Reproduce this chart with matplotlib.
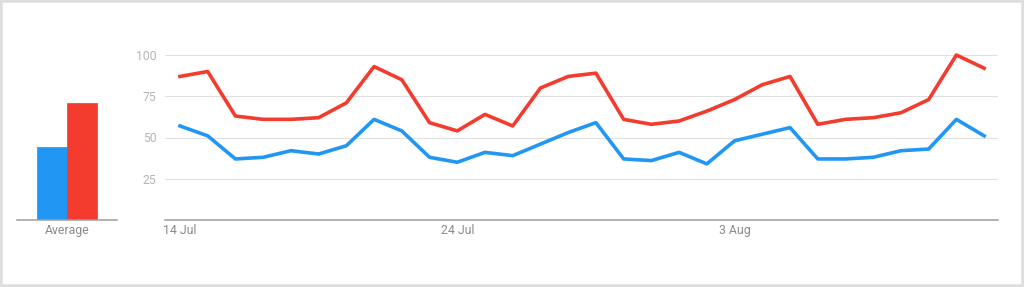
import numpy as np
import pandas as pd
import matplotlib.pyplot as plt
import matplotlib.dates as mdates
from matplotlib.patches import Rectangle

plt.rcParams['font.family'] = ['Roboto', 'DejaVu Sans']

dates = pd.date_range('2020-07-14', periods=30, freq='D')
red_vals = [87, 90, 63, 61, 61, 62, 71, 93, 85, 59, 54, 64, 57, 80, 87, 89, 61, 58,
            60, 66, 73, 82, 87, 58, 61, 62, 65, 73, 100, 92]
blue_vals = [57, 51, 37, 38, 42, 40, 45, 61, 54, 38, 35, 41, 39, 46, 53, 59, 37, 36,
             41, 34, 48, 52, 56, 37, 37, 38, 42, 43, 61, 51]
avg_vals = [44, 71]
tick_dates = ['2020-07-14', '2020-07-24', '2020-08-03']
tick_labels = ['14 Jul', '24 Jul', '3 Aug']

blue = '#2196f3'
red = '#f33b2e'

fig = plt.figure(figsize=(10.24, 2.87), dpi=100)
fig.patches.append(Rectangle((0, 0), 1, 1, transform=fig.transFigure, fill=False,
                             edgecolor='#dedede', linewidth=4, zorder=10))

# average bars
ax0 = fig.add_axes([17/1024, 1-220/287, 100/1024, 165/287])
ax0.bar([0, 1], avg_vals, width=1, color=[blue, red], edgecolor=[blue, red], linewidth=0.5)
ax0.set_xlim(-1.167, 2.167)
ax0.set_ylim(0, 100)
for s in ['top', 'right', 'left']:
    ax0.spines[s].set_visible(False)
ax0.spines['bottom'].set_color('#9e9e9e')
ax0.spines['bottom'].set_linewidth(1.1)
ax0.set_yticks([])
ax0.set_xticks([0.5])
ax0.set_xticklabels(['Average'], fontsize=8.8, color='#8a8a8a')
ax0.tick_params(axis='x', length=0, pad=3)

# main lines
ax = fig.add_axes([165/1024, 1-220/287, 833/1024, 165/287])
ax.plot(dates, blue_vals, color=blue, linewidth=2.6, clip_on=False)
ax.plot(dates, red_vals, color=red, linewidth=2.6, clip_on=False)
x0 = mdates.date2num(dates[0])
ax.set_xlim(x0 - 0.54, x0 + 29.5)
ax.set_ylim(0, 100)
ax.set_yticks([25, 50, 75, 100])
ax.yaxis.grid(True, color='#e0e0e0', linewidth=0.8)
ax.set_axisbelow(True)
for s in ['top', 'right', 'left']:
    ax.spines[s].set_visible(False)
ax.spines['bottom'].set_color('#9e9e9e')
ax.spines['bottom'].set_linewidth(1.1)
ax.tick_params(axis='y', length=0, pad=6, labelsize=8.8, labelcolor='#b5b5b5')
ax.set_xticks(pd.to_datetime(tick_dates))
ax.set_xticklabels(tick_labels, fontsize=8.8, color='#8a8a8a')
ax.tick_params(axis='x', length=0, pad=3)

fig.savefig('out.png', dpi=100)
